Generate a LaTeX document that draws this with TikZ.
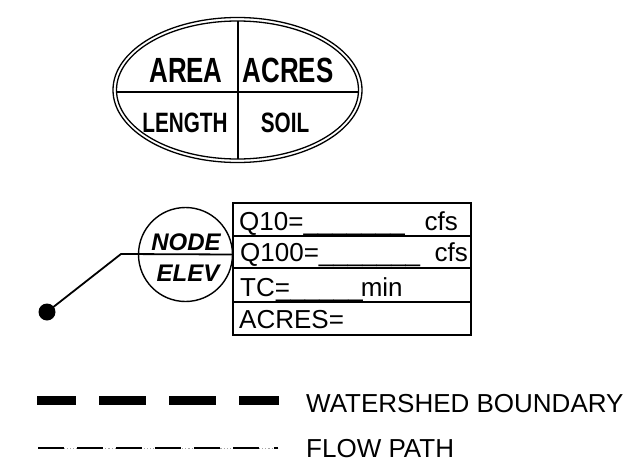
\documentclass[tikz,border=0pt]{standalone}
\usepackage{fontspec}
\setmainfont{Liberation Sans}
\newfontfamily\ellfont[FakeStretch=0.74]{Liberation Sans}
\begin{document}
\begin{tikzpicture}[x=1pt,y=-1pt,
  ellline/.style={line width=1.3pt},
  elltext/.style={font=\ellfont\bfseries\fontsize{35}{35}\selectfont, inner sep=0pt, anchor=base},
  elltextsm/.style={font=\ellfont\bfseries\fontsize{28}{28}\selectfont, inner sep=0pt, anchor=base},
  nodetext/.style={font=\bfseries\itshape\fontsize{24}{24}\selectfont, inner sep=0pt, anchor=base},
  rowbox/.style={draw, line width=1.8pt, minimum width=238pt, inner sep=0pt},
  tabtext/.style={font=\fontsize{26}{26}\selectfont, inner sep=0pt},
  legtext/.style={font=\fontsize{26}{26}\selectfont, inner sep=0pt, anchor=base west},
  leader/.style={line width=1.8pt},
  dotmark/.style={circle, fill=black, minimum size=17pt, inner sep=0pt}
]
\useasboundingbox (0,0) rectangle (632,463);
\fill[white] (0,0) rectangle (632,463);

% --- ellipse symbol
\coordinate (ec) at (237.5,90);
\draw[ellline] (ec) ellipse [x radius=124.5, y radius=72.5];
\draw[ellline] (ec) ellipse [x radius=121, y radius=69];
\coordinate (vt) at (238,21);
\coordinate (vb) at (238,159);
\coordinate (hl) at (116.6,92);
\coordinate (hr) at (358.4,92);
\draw[ellline] (vt) -- (vb);
\draw[ellline] (hl) -- (hr);
\node[elltext] (area) at (186,82) {AREA};
\node[elltext] (acres) at (288,82) {ACRES};
\node[elltextsm] (length) at (185,132) {LENGTH};
\node[elltextsm] (soil) at (285,132) {SOIL};

% --- node circle and table
\node[draw, circle, line width=1.4pt, minimum size=94pt, inner sep=0pt] (nd) at (185.5,254.5) {};
\node[nodetext] (ntxt) at (186,250) {NODE};
\node[nodetext] (etxt) at (188,281) {ELEV};

\node[rowbox, minimum height=33pt] (r1) at (352,219.5) {};
\node[rowbox, minimum height=32pt] (r2) at (352,252) {};
\node[rowbox, minimum height=34pt] (r3) at (352,285) {};
\node[rowbox, minimum height=33pt] (r4) at (352,318.5) {};

\node[tabtext, anchor=base west] (q10) at (239,230) {Q10=\_\_\_\_\_\_\_};
\node[tabtext, anchor=base east] (cfs1) at (458,230) {cfs};
\node[tabtext, anchor=base west] (q100) at (240,261) {Q100=\_\_\_\_\_\_\_};
\node[tabtext, anchor=base east] (cfs2) at (468,261) {cfs};
\node[tabtext, anchor=base west] (tc) at (240,296) {TC=\kern-14pt\_\_\_\_\_\_\kern-2pt min};
\node[tabtext, anchor=base west] (ac) at (239,328) {ACRES=};

% --- leader
\coordinate (bend) at (121,254);
\node[dotmark] (pt) at (47,312) {};
\draw[leader] (pt.center) -- (bend) -- (nd.east);

% --- legend
\coordinate (w1) at (37,400);
\coordinate (w2) at (279,400);
\draw[line width=9pt, dash pattern=on 47pt off 23pt, dash phase=8pt] (w1) -- (w2);
\node[legtext] (wl) at (306,412) {WATERSHED BOUNDARY};

\coordinate (f1) at (38,448);
\coordinate (f2) at (278,448);
\coordinate (f3) at (259,448);
\coordinate (f4) at (274,448);
\draw[black!35, line width=0.8pt, dash pattern=on 1.2pt off 2pt] (f1) -- (f2);
\draw[line width=1.5pt, dash pattern=on 25.5pt off 13.5pt] (f1) -- (f3);
\draw[line width=1.5pt] (f4) -- (f2);
\node[legtext] (fl) at (306,457) {FLOW PATH};
\end{tikzpicture}
\end{document}
